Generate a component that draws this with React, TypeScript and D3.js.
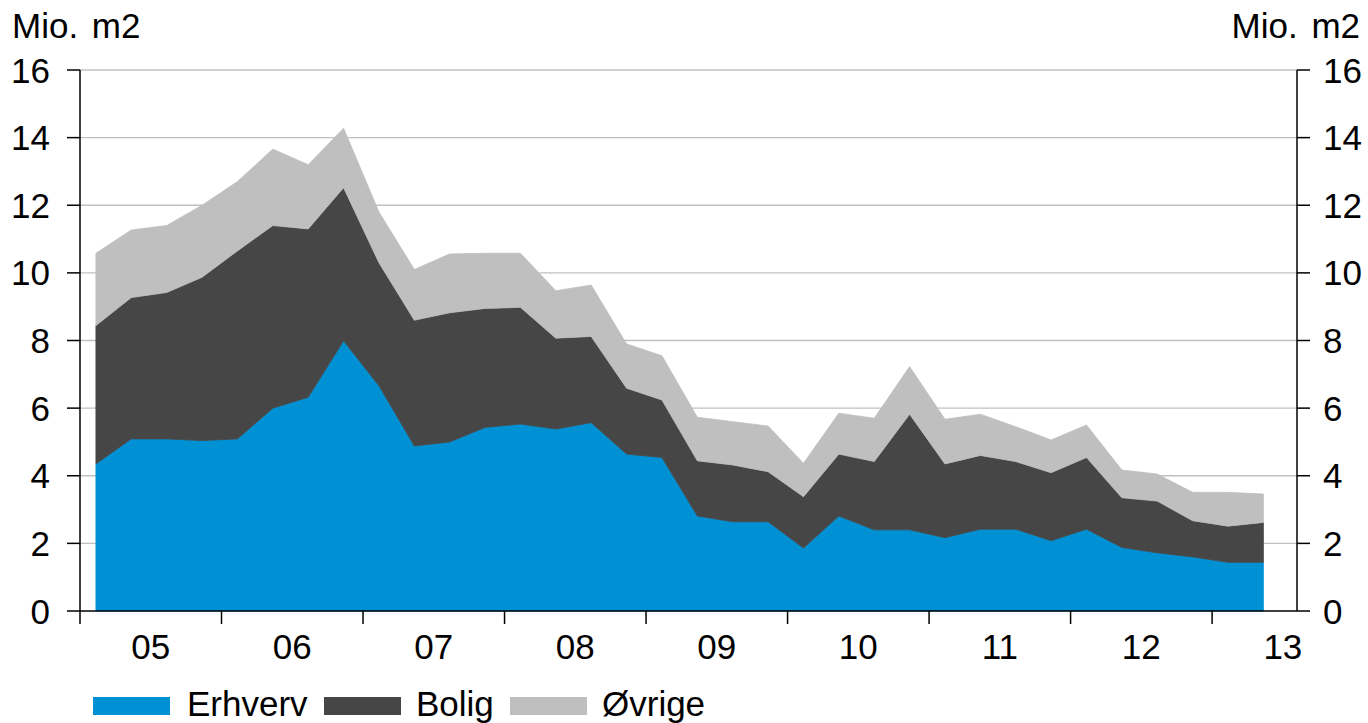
import React from "react";
import * as d3 from "d3";

const quarters: string[] = [
  "2005Q1","2005Q2","2005Q3","2005Q4","2006Q1","2006Q2","2006Q3","2006Q4",
  "2007Q1","2007Q2","2007Q3","2007Q4","2008Q1","2008Q2","2008Q3","2008Q4",
  "2009Q1","2009Q2","2009Q3","2009Q4","2010Q1","2010Q2","2010Q3","2010Q4",
  "2011Q1","2011Q2","2011Q3","2011Q4","2012Q1","2012Q2","2012Q3","2012Q4",
  "2013Q1","2013Q2",
];

const erhverv: number[] = [
  4.35, 5.09, 5.09, 5.04, 5.09, 6.0, 6.32, 7.99, 6.66, 4.88, 5.0, 5.43, 5.53, 5.38, 5.57, 4.64,
  4.54, 2.81, 2.64, 2.64, 1.86, 2.81, 2.4, 2.4, 2.17, 2.42, 2.42, 2.08, 2.42, 1.88, 1.72, 1.6,
  1.44, 1.44,
];

const bolig: number[] = [
  4.09, 4.18, 4.33, 4.83, 5.56, 5.4, 4.98, 4.53, 3.64, 3.72, 3.82, 3.52, 3.45, 2.69, 2.55, 1.95,
  1.7, 1.63, 1.68, 1.48, 1.52, 1.83, 2.02, 3.42, 2.18, 2.18, 2.0, 2.01, 2.12, 1.47, 1.53, 1.07,
  1.07, 1.18,
];

const ovrige: number[] = [
  2.14, 2.0, 1.98, 2.13, 2.05, 2.26, 1.9, 1.76, 1.5, 1.5, 1.74, 1.63, 1.6, 1.4, 1.52, 1.31,
  1.31, 1.29, 1.28, 1.35, 0.99, 1.21, 1.28, 1.41, 1.32, 1.22, 1.03, 0.97, 0.96, 0.82, 0.8, 0.84,
  1.0, 0.84,
];

const seriesNames: string[] = ["Erhverv", "Bolig", "Øvrige"];
const seriesColors: string[] = ["#0091d5", "#464646", "#bfbfbf"];
const yTicks: number[] = [0, 2, 4, 6, 8, 10, 12, 14, 16];
const yearLabels: string[] = ["05", "06", "07", "08", "09", "10", "11", "12", "13"];
const unitLabel = "Mio. m2";

const FONT = "'Liberation Sans', Arial, Helvetica, sans-serif";
const FS = 35;

export default function App() {
  const W = 1368;
  const H = 723;
  const left = 80;
  const right = 1297;
  const top = 70;
  const bottom = 611;

  const x = d3.scaleLinear().domain([0, 8.6]).range([left, right]);
  const y = d3.scaleLinear().domain([0, 16]).range([bottom, top]);

  const rows = quarters.map((q, i) => ({
    t: +q.slice(0, 4) - 2005 + (+q.slice(5) - 1 + 0.45) / 4,
    Erhverv: erhverv[i],
    Bolig: bolig[i],
    Øvrige: ovrige[i],
  }));

  const stack = d3.stack<any>().keys(seriesNames);
  const layers = stack(rows);
  const area = d3
    .area<any>()
    .x((d) => x(d.data.t))
    .y0((d) => y(d[0]))
    .y1((d) => y(d[1]));

  const yearTicks = d3.range(0, 9);

  const legendItems = [
    { sx: 93, tx: 187 },
    { sx: 324, tx: 416 },
    { sx: 510, tx: 602 },
  ];

  return (
    <svg
      width={W}
      height={H}
      style={{ position: "absolute", left: 0, top: 0, background: "#fff" }}
      fontFamily={FONT}
    >
      {yTicks
        .filter((v) => v > 0)
        .map((v) => (
          <line key={"g" + v} x1={left} x2={right} y1={y(v)} y2={y(v)} stroke="#c0c0c0" strokeWidth={1.4} />
        ))}
      {layers.map((layer, i) => (
        <path key={seriesNames[i]} d={area(layer) || ""} fill={seriesColors[i]} stroke={seriesColors[i]} strokeWidth={0.8} />
      ))}
      <line x1={left} x2={left} y1={top} y2={bottom} stroke="#000" strokeWidth={1.5} />
      <line x1={right} x2={right} y1={top} y2={bottom} stroke="#000" strokeWidth={1.5} />
      <line x1={left} x2={right} y1={bottom} y2={bottom} stroke="#000" strokeWidth={1.5} />
      {yTicks.map((v) => (
        <g key={"t" + v}>
          <line x1={left - 13} x2={left} y1={y(v)} y2={y(v)} stroke="#000" strokeWidth={1.5} />
          <line x1={right} x2={right + 13} y1={y(v)} y2={y(v)} stroke="#000" strokeWidth={1.5} />
          <text x={50} y={y(v)} dy="0.36em" textAnchor="end" fontSize={FS}>
            {v}
          </text>
          <text x={1323} y={y(v)} dy="0.36em" textAnchor="start" fontSize={FS}>
            {v}
          </text>
        </g>
      ))}
      {yearTicks.map((k) => (
        <line key={"x" + k} x1={x(k)} x2={x(k)} y1={bottom} y2={bottom + 13} stroke="#000" strokeWidth={1.5} />
      ))}
      {yearLabels.map((lab, k) => (
        <text key={lab} x={x(k + 0.5)} y={659} textAnchor="middle" fontSize={FS}>
          {lab}
        </text>
      ))}
      <text x={12} y={38} fontSize={FS} wordSpacing={4}>
        {unitLabel}
      </text>
      <text x={1360} y={38} fontSize={FS} textAnchor="end" wordSpacing={4}>
        {unitLabel}
      </text>
      {seriesNames.map((name, i) => (
        <g key={"l" + name}>
          <rect x={legendItems[i].sx} y={697} width={77} height={18} fill={seriesColors[i]} />
          <text x={legendItems[i].tx} y={716} fontSize={FS}>
            {name}
          </text>
        </g>
      ))}
    </svg>
  );
}
